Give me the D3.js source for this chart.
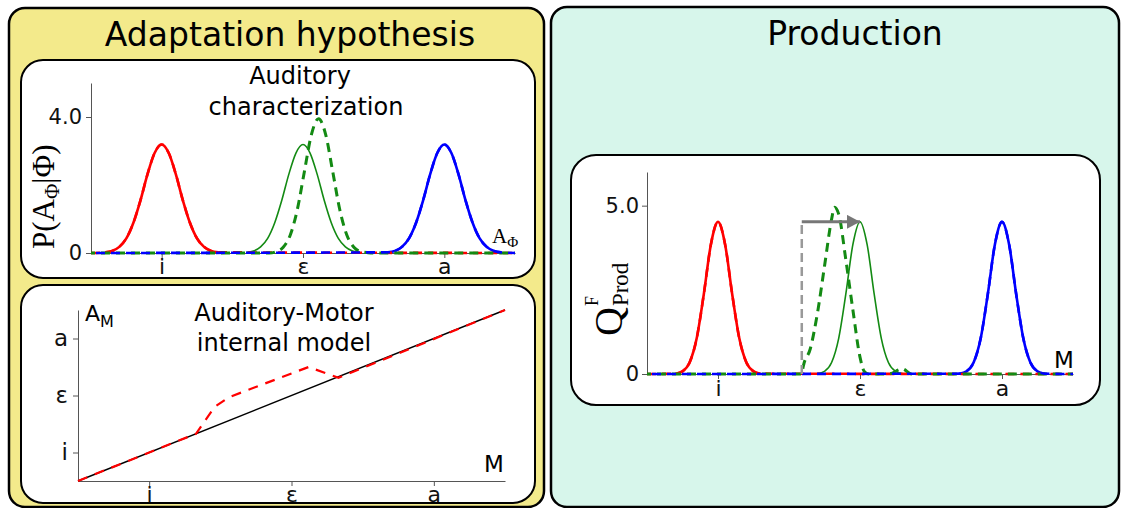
<!DOCTYPE html>
<html>
<head>
<meta charset="utf-8">
<script src="https://cdn.jsdelivr.net/npm/d3@7"></script>
<style>
  body { margin: 0; background: #fff; }
  svg { display: block; font-family: "DejaVu Sans", sans-serif; }
</style>
</head>
<body>
<svg id="fig" width="1123" height="508"></svg>
<script>
// vowel categories, same order on every axis
const vowels = ["i", "ε", "a"];
const vowelPos = [1, 2, 3];

// Auditory characterization P(A|Φ), values read around each peak
const percTicks = [0, 4.0];
const percOffsets = [-0.4, -0.35, -0.3, -0.25, -0.2, -0.15, -0.1, -0.05, 0, 0.05, 0.1, 0.15, 0.2, 0.25, 0.3, 0.35, 0.4];
const percHeights = [0.02, 0.06, 0.18, 0.43, 0.89, 1.55, 2.32, 2.94, 3.19, 2.94, 2.32, 1.55, 0.89, 0.43, 0.18, 0.06, 0.02];
const percShiftCenter = 2.11;
const percShiftHeights = [0, 0, 0.04, 0.17, 0.53, 1.28, 2.40, 3.49, 3.95, 3.49, 2.40, 1.28, 0.53, 0.17, 0.04, 0.01, 0];

// Auditory-Motor internal model
const modelX = [0.5, 3.5];
const modelY = [0.5, 3.5];
const adaptedX = [0.5, 1.33, 1.46, 1.56, 2.12, 2.33, 3.5];
const adaptedY = [0.5, 1.33, 1.80, 1.97, 2.50, 2.31, 3.5];

// Production Q
const prodTicks = [0, 5.0];
const prodOffsets = [-0.3, -0.25, -0.2, -0.15, -0.1, -0.05, 0, 0.05, 0.1, 0.15, 0.2, 0.25, 0.3];
const prodHeights = [0.01, 0.08, 0.34, 1.06, 2.37, 3.85, 4.52, 3.85, 2.37, 1.06, 0.34, 0.08, 0.01];
const prodShiftX = [1.59, 1.6, 1.65, 1.7, 1.75, 1.8, 1.82, 1.85, 1.9, 1.95, 2.0, 2.03, 2.06, 2.2, 2.3, 2.36];
const prodShiftY = [0, 0.22, 0.75, 1.8, 3.2, 4.6, 4.95, 4.75, 3.4, 1.9, 0.5, 0.08, 0, 0, 0.15, 0];
const shiftFrom = 1.59, shiftTo = 2.0, shiftLevel = 4.52;

const colors = ["#ff0000", "#138a13", "#0000ff"];
const axisColor = "#555";

const svg = d3.select("#fig");

// panels
function box(x, y, w, h, r, fill, sw) {
  svg.append("rect").attr("x", x).attr("y", y).attr("width", w).attr("height", h)
    .attr("rx", r).attr("ry", r).attr("fill", fill).attr("stroke", "#000").attr("stroke-width", sw);
}
box(9, 8, 535, 499, 16, "#f3ea8b", 2.5);
box(551, 7, 568, 500, 16, "#d7f6eb", 2.5);
box(21, 60, 514, 218, 22, "#fff", 2);
box(21, 285, 514, 218, 22, "#fff", 2);
box(571, 155, 529, 250, 25, "#fff", 2);

function label(x, y, txt, size, anchor) {
  return svg.append("text").attr("x", x).attr("y", y).attr("font-size", size)
    .attr("text-anchor", anchor || "middle").attr("fill", "#000").text(txt);
}
label(290, 46, "Adaptation hypothesis", 33);
label(855, 45, "Production", 33);
label(300, 84, "Auditory", 24);
label(306, 115, "characterization", 24);
label(284, 321, "Auditory-Motor", 24);
label(284, 351, "internal model", 24);

function styleAxis(g, size) {
  g.attr("font-family", "DejaVu Sans").attr("font-size", size);
  g.selectAll("path, line").attr("stroke", axisColor);
  g.selectAll("text").attr("fill", "#111");
}
const numFmt = d => d === 0 ? "0" : d.toFixed(1);

function peak(center, offsets, heights) {
  return offsets.map((o, i) => [center + o, heights[i]]);
}
function full(pts) {
  return [[0.5, 0]].concat(pts, [[3.5, 0]]);
}

// ---------- Auditory characterization ----------
const x1 = d3.scaleLinear().domain([0.5, 3.5]).range([91, 515]);
const y1 = d3.scaleLinear().domain([0, 5]).range([253, 83]);

svg.append("g").attr("transform", "translate(0,253)")
  .call(d3.axisBottom(x1).tickValues(vowelPos).tickFormat((d, i) => vowels[i]).tickSize(5).tickPadding(0).tickSizeOuter(0))
  .call(g => styleAxis(g, 22));
svg.append("g").attr("transform", "translate(91,0)")
  .call(d3.axisLeft(y1).tickValues(percTicks).tickFormat(numFmt).tickSize(5).tickPadding(4).tickSizeOuter(0))
  .call(g => styleAxis(g, 21));

const line1 = d3.line().x(d => x1(d[0])).y(d => y1(d[1])).curve(d3.curveMonotoneX);

vowelPos.forEach((c, i) => {
  svg.append("path").attr("d", line1(peak(c, percOffsets, percHeights)))
    .attr("fill", "none").attr("stroke", colors[i]).attr("stroke-width", i === 1 ? 1.6 : 2.6);
});
const percDashed = [
  full(peak(1, percOffsets, percHeights)),
  full(peak(percShiftCenter, percOffsets, percShiftHeights)),
  full(peak(3, percOffsets, percHeights))
];
percDashed.forEach((pts, i) => {
  svg.append("path").attr("d", line1(pts))
    .attr("fill", "none").attr("stroke", colors[i]).attr("stroke-width", i === 1 ? 3 : 2.6)
    .attr("stroke-dasharray", "9,6").attr("stroke-dashoffset", i * 5);
});

// y label P(A_Φ|Φ)
const pl = svg.append("text").attr("transform", "translate(54,249) rotate(-90)")
  .attr("font-family", "Liberation Serif").attr("font-size", 31).attr("fill", "#000");
pl.append("tspan").text("P(A");
pl.append("tspan").attr("font-size", 21).attr("dy", 5).text("Φ");
pl.append("tspan").attr("dy", -5).text("|Φ)");

const al = svg.append("text").attr("x", 492).attr("y", 243)
  .attr("font-family", "Liberation Serif").attr("font-size", 21).attr("fill", "#000");
al.append("tspan").text("A");
al.append("tspan").attr("font-size", 15).attr("dy", 4).text("Φ");

// ---------- Auditory-Motor internal model ----------
const x3 = d3.scaleLinear().domain([0.5, 3.5]).range([78, 505]);
const y3 = d3.scaleLinear().domain([0.5, 3.5]).range([481, 310]);

svg.append("g").attr("transform", "translate(0,481)")
  .call(d3.axisBottom(x3).tickValues(vowelPos).tickFormat((d, i) => vowels[i]).tickSize(5).tickPadding(0).tickSizeOuter(0))
  .call(g => styleAxis(g, 22));
svg.append("g").attr("transform", "translate(78,0)")
  .call(d3.axisLeft(y3).tickValues(vowelPos).tickFormat((d, i) => vowels[i]).tickSize(5).tickPadding(5).tickSizeOuter(0))
  .call(g => styleAxis(g, 23));

const line3 = d3.line().x(d => x3(d[0])).y(d => y3(d[1]));
svg.append("path").attr("d", line3(modelX.map((v, i) => [v, modelY[i]])))
  .attr("fill", "none").attr("stroke", "#000").attr("stroke-width", 1.5);
svg.append("path").attr("d", line3(adaptedX.map((v, i) => [v, adaptedY[i]])))
  .attr("fill", "none").attr("stroke", colors[0]).attr("stroke-width", 2.2).attr("stroke-dasharray", "10,8");

const am = svg.append("text").attr("x", 85).attr("y", 321).attr("font-size", 22).attr("fill", "#000");
am.append("tspan").text("A");
am.append("tspan").attr("font-size", 16).attr("dy", 6).text("M");
label(484, 472, "M", 23, "start");

// ---------- Production ----------
const x2 = d3.scaleLinear().domain([0.5, 3.5]).range([647, 1073]);
const y2 = d3.scaleLinear().domain([0, 6]).range([374, 172]);

svg.append("g").attr("transform", "translate(0,374)")
  .call(d3.axisBottom(x2).tickValues(vowelPos).tickFormat((d, i) => vowels[i]).tickSize(5).tickPadding(1).tickSizeOuter(0))
  .call(g => styleAxis(g, 22));
svg.append("g").attr("transform", "translate(647,0)")
  .call(d3.axisLeft(y2).tickValues(prodTicks).tickFormat(numFmt).tickSize(5).tickPadding(3).tickSizeOuter(0))
  .call(g => styleAxis(g, 21));

const line2 = d3.line().x(d => x2(d[0])).y(d => y2(d[1])).curve(d3.curveMonotoneX);

vowelPos.forEach((c, i) => {
  svg.append("path").attr("d", line2(peak(c, prodOffsets, prodHeights)))
    .attr("fill", "none").attr("stroke", colors[i]).attr("stroke-width", i === 1 ? 1.6 : 2.6);
});
const prodDashed = [
  full(peak(1, prodOffsets, prodHeights)),
  full(prodShiftX.map((v, i) => [v, prodShiftY[i]])),
  full(peak(3, prodOffsets, prodHeights))
];
prodDashed.forEach((pts, i) => {
  svg.append("path").attr("d", line2(pts))
    .attr("fill", "none").attr("stroke", colors[i]).attr("stroke-width", i === 1 ? 3 : 2.6)
    .attr("stroke-dasharray", "9,6").attr("stroke-dashoffset", i * 5);
});

// shift of the production target
svg.append("defs").append("marker").attr("id", "head")
  .attr("markerUnits", "userSpaceOnUse").attr("markerWidth", 14).attr("markerHeight", 14)
  .attr("refX", 13).attr("refY", 7).attr("orient", "auto")
  .append("path").attr("d", "M0,0 L13,7 L0,14 Z").attr("fill", "#777");
svg.append("line")
  .attr("x1", x2(shiftFrom)).attr("x2", x2(shiftFrom)).attr("y1", y2(0)).attr("y2", y2(shiftLevel))
  .attr("stroke", "#999").attr("stroke-width", 2.5).attr("stroke-dasharray", "9,5");
svg.append("line")
  .attr("x1", x2(shiftFrom)).attr("x2", x2(shiftTo)).attr("y1", y2(shiftLevel)).attr("y2", y2(shiftLevel))
  .attr("stroke", "#777").attr("stroke-width", 3).attr("marker-end", "url(#head)");

// y label Q^F_Prod
const ql = svg.append("text").attr("transform", "translate(622,336) rotate(-90)")
  .attr("font-family", "Liberation Serif").attr("font-size", 40).attr("fill", "#000");
ql.append("tspan").text("Q");
ql.append("tspan").attr("font-size", 18).attr("dy", -24).attr("dx", 1).text("F");
ql.append("tspan").attr("font-size", 23).attr("dx", -10).attr("dy", 30).text("Prod");

label(1054, 368, "M", 23, "start");
</script>
</body>
</html>
